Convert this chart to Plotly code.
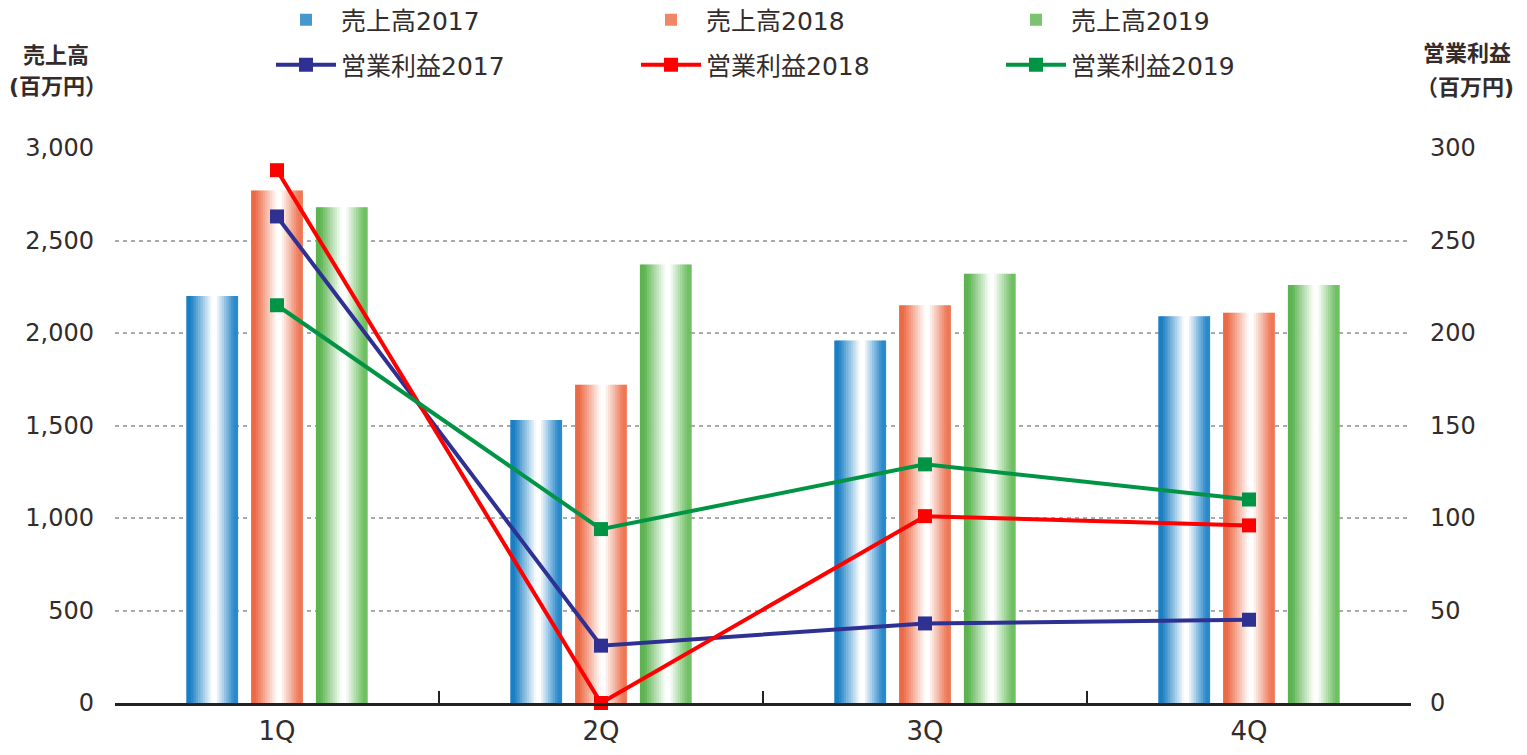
import plotly.graph_objects as go

quarters = ["1Q", "2Q", "3Q", "4Q"]

sales_2017 = [2200, 1530, 1960, 2090]
sales_2018 = [2770, 1720, 2150, 2110]
sales_2019 = [2680, 2370, 2320, 2260]

profit_2017 = [263, 31, 43, 45]
profit_2018 = [288, 0, 101, 96]
profit_2019 = [215, 94, 129, 110]

sales_names = ["売上高2017", "売上高2018", "売上高2019"]
profit_names = ["営業利益2017", "営業利益2018", "営業利益2019"]

FONT = "DejaVu Sans, Noto Sans CJK JP, sans-serif"
TXT = "#332c2b"
W, H = 1511, 739  # page body keeps an 8px margin

# horizontal gradient stops for each bar series (dark edge -> white -> colour)
grads = [
    [(0, (27, 127, 195)), (0.08, (27, 127, 195)), (0.5, (255, 255, 255)),
     (0.57, (255, 255, 255)), (0.92, (43, 138, 203)), (1, (43, 138, 203))],
    [(0, (236, 106, 69)), (0.08, (236, 106, 69)), (0.5, (255, 255, 255)),
     (0.57, (255, 255, 255)), (0.92, (238, 120, 88)), (1, (238, 120, 88))],
    [(0, (92, 180, 80)), (0.08, (92, 180, 80)), (0.5, (255, 255, 255)),
     (0.57, (255, 255, 255)), (0.92, (112, 192, 100)), (1, (112, 192, 100))],
]
line_colors = ["#2e3192", "#ff0000", "#009444"]


def ramp(stops, t):
    for (p0, c0), (p1, c1) in zip(stops, stops[1:]):
        if p0 <= t <= p1:
            f = 0 if p1 == p0 else (t - p0) / (p1 - p0)
            c = [round(a + (b - a) * f) for a, b in zip(c0, c1)]
            return "rgb(%d,%d,%d)" % tuple(c)
    return "rgb(%d,%d,%d)" % stops[-1][1]


fig = go.Figure()

# each bar is built from thin overlaid slices to fake the horizontal gradient
N = 22
bar_w = 0.16
centers = [-0.2, 0.0, 0.2]
for name, vals, stops, c in zip(sales_names, [sales_2017, sales_2018, sales_2019], grads, centers):
    left = c - bar_w / 2
    sw = bar_w / N
    for i in range(N):
        off = left + i * sw
        w = min(sw * 1.3, left + bar_w - off)
        fig.add_trace(go.Bar(
            x=quarters, y=vals, name=name, legendgroup=name, legend="legend",
            offset=off, width=w,
            marker=dict(color=ramp(stops, (i + 0.5) / N), line_width=0),
            showlegend=(i == 3), hoverinfo="skip",
        ))

for name, vals, col in zip(profit_names, [profit_2017, profit_2018, profit_2019], line_colors):
    fig.add_trace(go.Scatter(
        x=quarters, y=vals, name=name, yaxis="y2", legend="legend2",
        mode="lines+markers", cliponaxis=False,
        line=dict(color=col, width=4),
        marker=dict(symbol="square", size=14, color=col),
    ))

legend_common = dict(
    orientation="h", xref="container", yref="container",
    x=(271 - 8) / W, xanchor="left", yanchor="middle",
    entrywidth=290, entrywidthmode="pixels", itemwidth=60,
    font=dict(size=25, color=TXT), bgcolor="rgba(0,0,0,0)",
)


def axis_note(text, cx, cy):
    return dict(text="<b>%s</b>" % text, xref="paper", yref="paper",
                x=(cx - 115) / 1296, y=(703 - cy) / 555,
                xanchor="center", yanchor="middle", showarrow=False,
                font=dict(size=22, color=TXT))


fig.update_layout(
    width=W, height=H,
    margin=dict(l=107, r=108, t=140, b=44, autoexpand=False),
    paper_bgcolor="white", plot_bgcolor="white",
    barmode="overlay",
    font=dict(family=FONT, color=TXT, size=24),
    xaxis=dict(
        type="category", range=[-0.5, 3.5], automargin=False,
        showline=True, linecolor="#222", linewidth=3,
        ticks="inside", tickson="boundaries", ticklen=12, tickwidth=2, tickcolor="#222",
        showgrid=False, tickfont=dict(size=26), ticklabelstandoff=3,
    ),
    yaxis=dict(
        range=[0, 3000], tickvals=[0, 500, 1000, 1500, 2000, 2500, 3000],
        tickformat=",", showgrid=False, zeroline=False, showline=False,
        automargin=False, ticklabelstandoff=20, tickfont=dict(size=24),
        minor=dict(tickmode="array", tickvals=[500, 1000, 1500, 2000, 2500],
                   showgrid=True, gridcolor="#aaaaaa", gridwidth=1.5, griddash="4px,4px"),
    ),
    yaxis2=dict(
        overlaying="y", side="right", range=[0, 300], dtick=50,
        showgrid=False, zeroline=False, showline=False,
        automargin=False, ticklabelstandoff=18, tickfont=dict(size=24),
    ),
    legend=dict(legend_common, y=1 - (20 - 8) / H),
    legend2=dict(legend_common, y=1 - (65 - 8) / H),
    annotations=[
        axis_note("売上高", 56, 56),
        axis_note("(百万円）", 58, 86),
        axis_note("営業利益", 1467, 54),
        axis_note("（百万円)", 1465, 87),
    ],
)

fig.write_html("out.html")
